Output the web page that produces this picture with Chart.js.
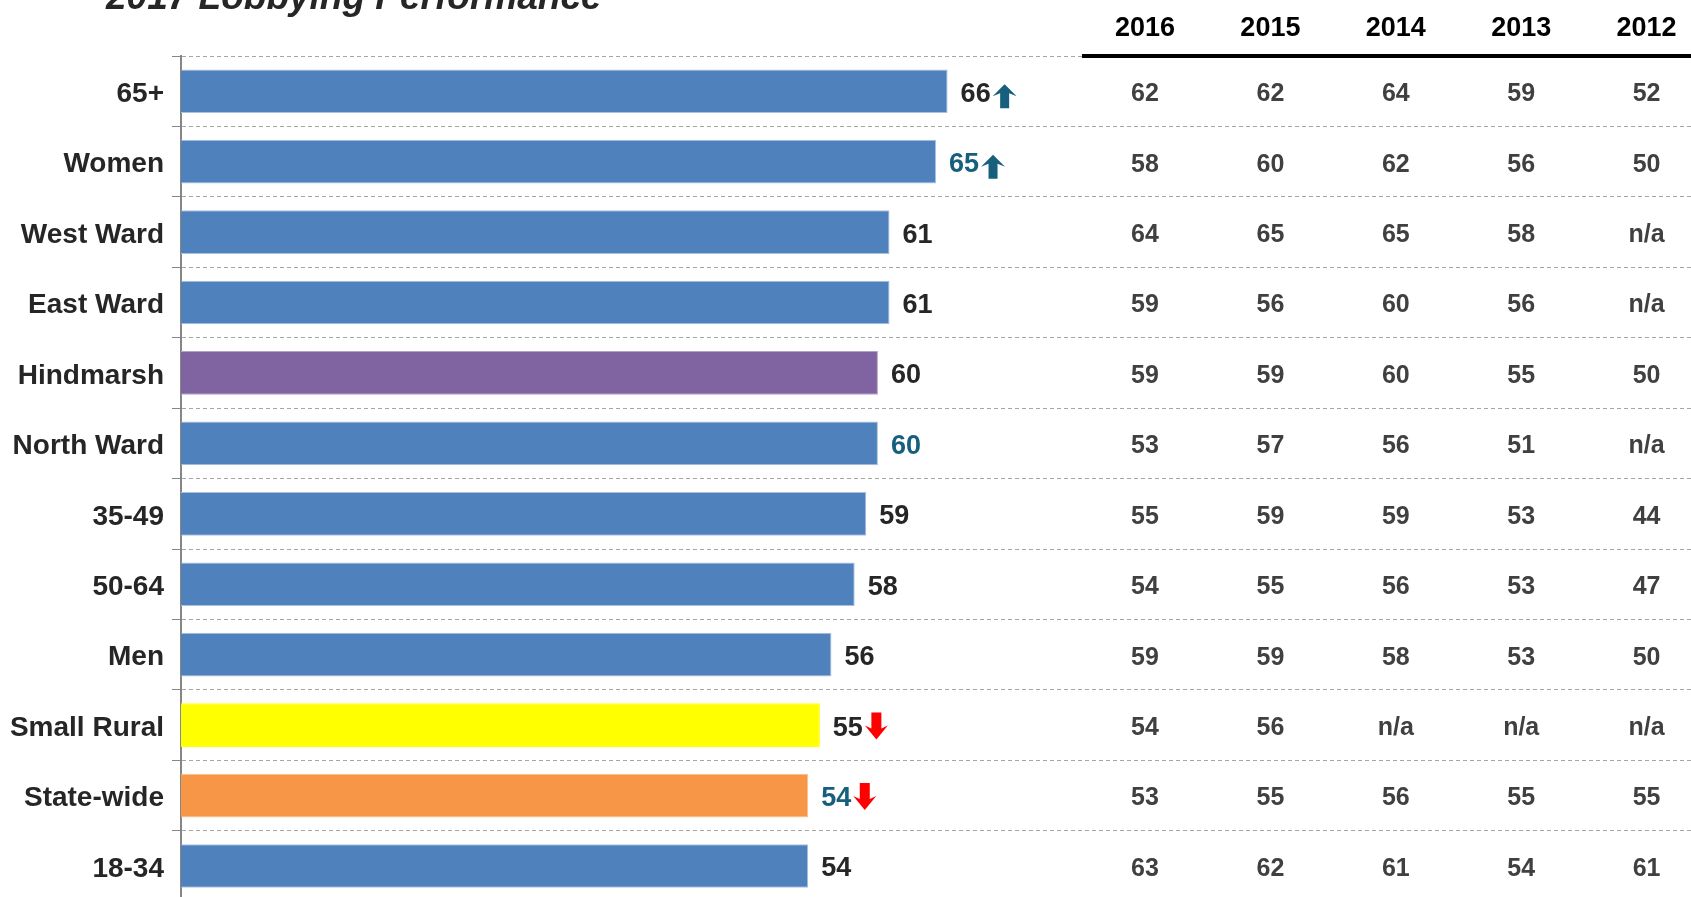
<!DOCTYPE html>
<html>
<head>
<meta charset="utf-8">
<title>2017 Lobbying Performance</title>
<script src="https://cdn.jsdelivr.net/npm/chart.js@4.4.1/dist/chart.umd.min.js"></script>
<style>
    html, body { margin: 0; padding: 0; background: #ffffff; overflow: hidden; }
    #lobbyChart { display: block; }
</style>
</head>
<body>
<!-- taller than the window: the last rows run past the bottom edge, as in the source -->
<canvas id="lobbyChart" width="1691" height="926"></canvas>
<script>
// Chart data
const chartTitle = "2017 Lobbying Performance";
const categories = ["65+", "Women", "West Ward", "East Ward", "Hindmarsh", "North Ward",
    "35-49", "50-64", "Men", "Small Rural", "State-wide", "18-34"];
const scores2017 = [66, 65, 61, 61, 60, 60, 59, 58, 56, 55, 54, 54];
const labelTone = ["dark", "teal", "dark", "dark", "dark", "teal",
    "dark", "dark", "dark", "dark", "teal", "dark"];
const trends = ["up", "up", "", "", "", "", "", "", "", "down", "down", ""];

// Previous years table
const tableYears = ["2016", "2015", "2014", "2013", "2012"];
const col2016 = [62, 58, 64, 59, 59, 53, 55, 54, 59, 54, 53, 63];
const col2015 = [62, 60, 65, 56, 59, 57, 59, 55, 59, 56, 55, 62];
const col2014 = [64, 62, 65, 60, 60, 56, 59, 56, 58, "n/a", 56, 61];
const col2013 = [59, 56, 58, 56, 55, 51, 53, 53, 53, "n/a", 55, 54];
const col2012 = [52, 50, "n/a", "n/a", 50, "n/a", 44, 47, 50, "n/a", 55, 61];
const tableColumns = [col2016, col2015, col2014, col2013, col2012];

// Colours
const BLUE = "#4F81BD";
const barFill = categories.map(c => {
    if (c === "Hindmarsh") return "#8064A2";
    if (c === "Small Rural") return "#FFFF00";
    if (c === "State-wide") return "#F79646";
    return BLUE;
});
const barEdge = categories.map(c => {
    if (c === "Hindmarsh") return "#B3A2C7";
    if (c === "Small Rural") return "#FFFF00";
    if (c === "State-wide") return "#FAC090";
    return "#A9C1DF";
});
const TEAL = "#17607D";
const DARK = "#262626";
const FONT = '"Liberation Sans", Arial, sans-serif';

// table layout
const firstColX = 1145;
const colStep = 125.4;
const headerY = 29;
const headerLineStart = 1082;

function drawArrow(ctx, dir, x, cy) {
    ctx.beginPath();
    if (dir === "up") {
        ctx.fillStyle = TEAL;
        const w = 24, h = 24, head = 12, shaft = 9;
        const top = cy - h / 2 + 1;
        ctx.moveTo(x + w / 2, top);
        ctx.lineTo(x + w, top + head);
        ctx.lineTo(x + w / 2 + shaft / 2, top + head - 3);
        ctx.lineTo(x + w / 2 + shaft / 2, top + h);
        ctx.lineTo(x + w / 2 - shaft / 2, top + h);
        ctx.lineTo(x + w / 2 - shaft / 2, top + head - 3);
        ctx.lineTo(x, top + head);
    } else {
        ctx.fillStyle = "#FF0000";
        const w = 23, h = 27, head = 14, shaft = 10;
        const top = cy - h / 2 - 3;
        ctx.moveTo(x + w / 2 - shaft / 2, top);
        ctx.lineTo(x + w / 2 + shaft / 2, top);
        ctx.lineTo(x + w / 2 + shaft / 2, top + h - head + 3);
        ctx.lineTo(x + w, top + h - head);
        ctx.lineTo(x + w / 2, top + h);
        ctx.lineTo(x, top + h - head);
        ctx.lineTo(x + w / 2 - shaft / 2, top + h - head + 3);
    }
    ctx.closePath();
    ctx.fill();
}

const tablePlugin = {
    id: "tableAndLabels",
    afterDraw(chart) {
        const ctx = chart.ctx;
        const yScale = chart.scales.y;
        const meta = chart.getDatasetMeta(0);
        ctx.save();

        // title (cut off at the top, as in the source)
        ctx.font = "italic bold 37px " + FONT;
        ctx.fillStyle = DARK;
        ctx.textAlign = "left";
        ctx.textBaseline = "alphabetic";
        ctx.fillText(chartTitle, 106, 9);

        // value labels and trend arrows
        ctx.font = "bold 27px " + FONT;
        ctx.textBaseline = "middle";
        meta.data.forEach((bar, i) => {
            const x = bar.x + 13;
            const txt = String(scores2017[i]);
            ctx.fillStyle = labelTone[i] === "teal" ? TEAL : DARK;
            ctx.fillText(txt, x, bar.y + 3);
            const tw = ctx.measureText(txt).width;
            if (trends[i]) drawArrow(ctx, trends[i], x + tw + 2, bar.y + 4);
        });

        // table header
        ctx.textAlign = "center";
        ctx.fillStyle = "#000000";
        ctx.font = "bold 27px " + FONT;
        tableYears.forEach((yr, j) => {
            ctx.fillText(yr, firstColX + j * colStep, headerY);
        });
        ctx.strokeStyle = "#000000";
        ctx.lineWidth = 4;
        ctx.beginPath();
        ctx.moveTo(headerLineStart, chart.chartArea.top);
        ctx.lineTo(chart.width, chart.chartArea.top);
        ctx.stroke();

        // table values
        ctx.fillStyle = "#404040";
        ctx.font = "bold 25px " + FONT;
        tableColumns.forEach((col, j) => {
            col.forEach((v, i) => {
                ctx.fillText(String(v), firstColX + j * colStep, yScale.getPixelForValue(i) + 3);
            });
        });

        ctx.restore();
    }
};

document.addEventListener("DOMContentLoaded", function () {
    const ctx = document.getElementById("lobbyChart").getContext("2d");

    new Chart(ctx, {
        type: "bar",
        data: {
            labels: categories,
            datasets: [{
                data: scores2017,
                backgroundColor: barFill,
                borderColor: barEdge,
                borderWidth: 1,
                barPercentage: 0.62,
                categoryPercentage: 1.0
            }]
        },
        options: {
            indexAxis: "y",
            responsive: false,
            animation: false,
            devicePixelRatio: 1,
            layout: { padding: { top: 56, left: 0, right: 0, bottom: 0 } },
            plugins: {
                legend: { display: false },
                tooltip: { enabled: false }
            },
            scales: {
                x: {
                    display: false,
                    min: 0,
                    max: 130
                },
                y: {
                    offset: true,
                    afterFit(scale) { scale.width = 181; },
                    grid: {
                        offset: true,
                        color: "#A6A6A6",
                        lineWidth: 1,
                        drawTicks: true,
                        tickLength: 9,
                        tickColor: "#868686"
                    },
                    border: {
                        display: true,
                        color: "#868686",
                        width: 2,
                        dash: [4, 3]
                    },
                    ticks: {
                        color: DARK,
                        padding: 8,
                        labelOffset: 3,
                        font: { family: FONT, size: 28, weight: "bold" }
                    }
                }
            }
        },
        plugins: [tablePlugin]
    });
});
</script>
</body>
</html>
